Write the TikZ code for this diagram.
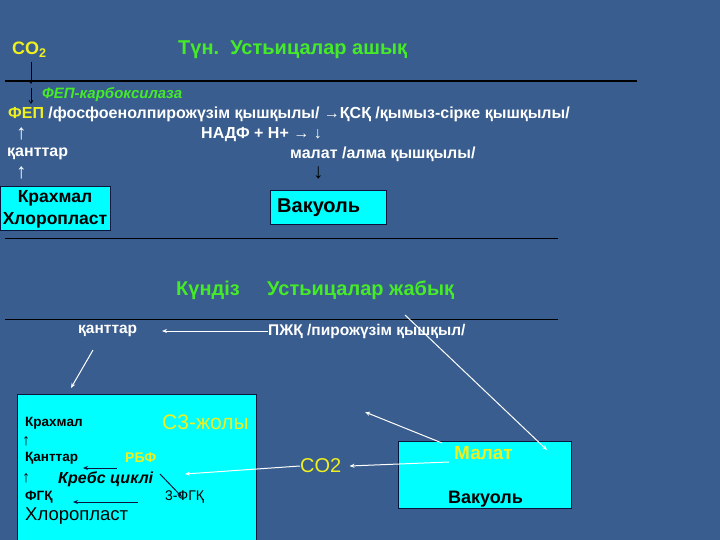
\documentclass[tikz,border=0pt]{standalone}
\usepackage{fontspec}
\setmainfont{Liberation Sans}
\usetikzlibrary{arrows.meta}
\definecolor{bg}{RGB}{56,93,142}
\definecolor{grn}{RGB}{70,235,40}
\definecolor{ylw}{RGB}{240,240,30}
\definecolor{cyanbox}{RGB}{0,255,255}
\definecolor{navy}{RGB}{10,20,60}
\tikzset{
  txt/.style={inner sep=0pt,anchor=west,font=\bfseries\fontsize{16}{18}\selectfont,text=white},
  head/.style={inner sep=0pt,anchor=west,font=\bfseries\fontsize{20}{22}\selectfont,text=grn},
  boxtxt/.style={inner sep=0pt,anchor=west,font=\bfseries\fontsize{13.5}{15}\selectfont,text=black},
  glyph/.style={inner sep=0pt,anchor=west,font=\fontsize{21}{22}\selectfont,text=white},
  cbox/.style={draw=navy,fill=cyanbox,line width=0.8pt},
  sep/.style={draw=black,line width=1pt},
  warr/.style={draw=white,line width=1pt,-{Stealth[length=5pt,width=4pt]}},
  darr/.style={draw=navy,line width=1pt,-{Stealth[length=5pt,width=4pt]}},
  barr/.style={draw=black,line width=0.7pt,-{Straight Barb[length=3pt,width=4pt]}}
}
\begin{document}
\begin{tikzpicture}[x=1pt,y=-1pt]
\fill[bg] (0,0) rectangle (720,540);
\useasboundingbox (0,0) rectangle (720,540);
% night section
\node[txt,text=ylw,font=\bfseries\fontsize{18}{20}\selectfont] (co2a) at (12,50) {CO\textsubscript{2}};
\node[head] (night) at (178,50) {Түн.\ \ Устьицалар ашық};
\coordinate (l1a) at (5,81); \coordinate (l1b) at (637,81);
\draw[sep,line width=1.6pt] (l1a) -- (l1b);
\coordinate (d1a) at (31,62); \coordinate (d1b) at (31,84);
\draw[barr] (d1a) -- (d1b);
\coordinate (d2a) at (31,88); \coordinate (d2b) at (31,104);
\draw[barr] (d2a) -- (d2b);
\node[txt,text=grn,font=\bfseries\itshape\fontsize{15}{17}\selectfont] (enz) at (42,95) {ФЕП-карбоксилаза};
\node[txt] (fep) at (8,114) {\textcolor{ylw}{ФЕП} /фосфоенолпирожүзім қышқылы/ →ҚСҚ /қымыз-сірке қышқылы/};
\node[glyph] (u1) at (16,134) {↑};
\node[txt] (nadf) at (201,135) {НАДФ + Н+ → ↓};
\node[txt] (kant1) at (7,154) {қанттар};
\node[txt] (malat1) at (290,154) {малат /алма қышқылы/};
\node[glyph] (u2) at (16,173) {↑};
\node[glyph,text=black] (d3) at (313,173) {↓};
\draw[cbox] (0,186) rectangle (110,230);
\node[inner sep=0pt,align=center,font=\bfseries\fontsize{17.5}{22}\selectfont,text=black] (chl1) at (55,209) {Крахмал\\Хлоропласт};
\draw[cbox] (270,190) rectangle (386,224);
\node[txt,text=black,font=\bfseries\fontsize{20}{22}\selectfont] (vak1) at (277,208) {Вакуоль};
\coordinate (l2a) at (5,238); \coordinate (l2b) at (558,238);
\draw[sep] (l2a) -- (l2b);
% day section
\node[head] (day) at (176,290) {Күндіз};
\node[head] (closed) at (267,290) {Устьицалар жабық};
\coordinate (l3a) at (5,319); \coordinate (l3b) at (558,319);
\draw[sep] (l3a) -- (l3b);
\node[txt,font=\bfseries\fontsize{15.5}{17}\selectfont] (kant2) at (78,331) {қанттар};
\node[txt,font=\bfseries\fontsize{15.5}{17}\selectfont] (pjk) at (268,331) {ПЖҚ /пирожүзім қышқыл/};
\coordinate (pjkend) at (162,331);
\draw[warr] (pjk.west) -- (pjkend);
\coordinate (s1a) at (93,350); \coordinate (s1b) at (71,388);
\draw[warr] (s1a) -- (s1b);
% chloroplast box
\draw[cbox] (17,394) rectangle (256,545);
\node[boxtxt] (krax) at (25,423) {Крахмал};
\node[glyph,text=black,font=\fontsize{16}{18}\selectfont] (u3) at (22,441) {↑};
\node[boxtxt] (kant3) at (25,458) {Қанттар};
\node[glyph,text=black,font=\fontsize{16}{18}\selectfont] (u4) at (22,478) {↑};
\node[boxtxt] (fgk) at (25,497) {ФГҚ};
\node[boxtxt,font=\fontsize{18.5}{20}\selectfont] (chl2) at (25,516) {Хлоропласт};
\node[boxtxt,text=ylw,font=\fontsize{21}{23}\selectfont] (c3) at (162,422) {С3-жолы};
\node[boxtxt,text=ylw,font=\bfseries\fontsize{14}{16}\selectfont] (rbf) at (125,458) {РБФ};
\node[boxtxt,font=\bfseries\itshape\fontsize{16}{18}\selectfont] (krebs) at (58,479) {Кребс циклі};
\node[boxtxt,font=\fontsize{14}{16}\selectfont] (fgk3) at (165,497) {3-ФГҚ};
\coordinate (a1a) at (117,468); \coordinate (a1b) at (83,468);
\draw[darr] (a1a) -- (a1b);
\coordinate (a2a) at (160,474); \coordinate (a2b) at (182,497);
\draw[darr] (a2a) -- (a2b);
\coordinate (a3a) at (138,502); \coordinate (a3b) at (73,502);
\draw[darr] (a3a) -- (a3b);
% vacuole box
\draw[cbox] (398,441) rectangle (571,508);
\node[boxtxt,text=ylw,font=\bfseries\fontsize{19}{21}\selectfont] (malat2) at (454,453) {Малат};
\node[boxtxt,font=\bfseries\fontsize{18}{20}\selectfont] (vak2) at (448,499) {Вакуоль};
\node[boxtxt,text=ylw,font=\fontsize{20}{22}\selectfont] (co2b) at (300,466) {CO2};
\coordinate (m1) at (449,462);
\draw[warr] (m1) -- ([xshift=8pt]co2b.east);
\coordinate (co2end) at (185,474);
\draw[warr] (co2b.west) -- (co2end);
\coordinate (m2a) at (442,443); \coordinate (m2b) at (365,412);
\draw[warr] (m2a) -- (m2b);
\coordinate (p1a) at (405,315); \coordinate (p1b) at (547,450);
\draw[warr] (p1a) -- (p1b);
\end{tikzpicture}
\end{document}
